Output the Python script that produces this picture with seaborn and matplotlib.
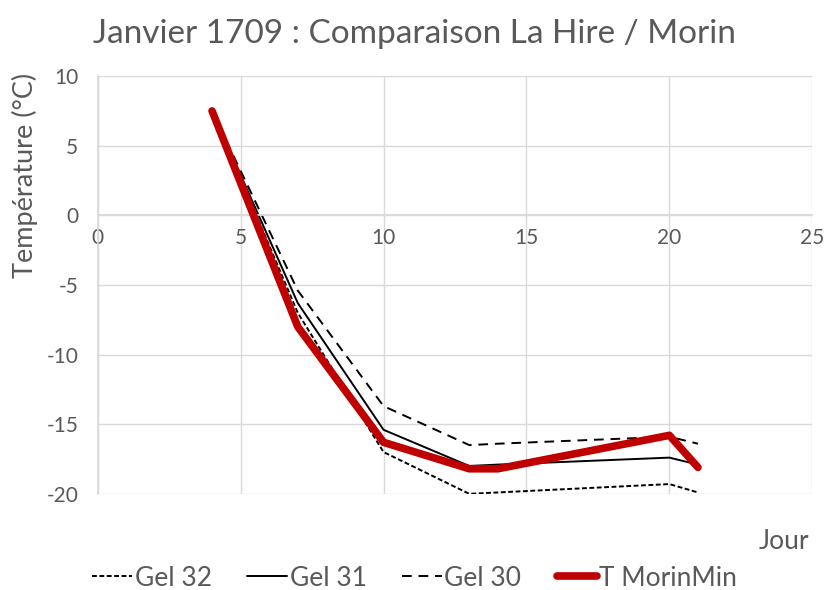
import matplotlib
matplotlib.use("Agg")
import matplotlib.pyplot as plt
import seaborn as sns
import pandas as pd
from matplotlib.lines import Line2D

jours = [4, 7, 10, 13, 14, 20, 21]
gel32 = [7.5, -7.0, -17.0, -20.0, -19.9, -19.3, -19.9]
gel31 = [7.5, -6.3, -15.4, -18.0, -17.9, -17.4, -17.9]
gel30 = [7.5, -5.4, -13.7, -16.5, -16.4, -15.9, -16.4]
morin = [7.5, -8.0, -16.3, -18.2, -18.2, -15.8, -18.1]

series_names = ["Gel 32", "Gel 31", "Gel 30", "T MorinMin"]
series_vals = [gel32, gel31, gel30, morin]

sns.set_theme(style="white")
plt.rcParams['font.family'] = ['Lato', 'DejaVu Sans']
plt.rcParams['axes.unicode_minus'] = False

fig = plt.figure(figsize=(8.28, 5.9), dpi=100)
ax = fig.add_axes([0.118, 0.163, 0.863, 0.708])

styles = {
    "Gel 32": dict(color="black", lw=1.4, ls=(0, (2.5, 1.3))),
    "Gel 31": dict(color="black", lw=1.4, ls="-"),
    "Gel 30": dict(color="black", lw=1.4, ls=(0, (5, 3.5))),
    "T MorinMin": dict(color="#c00000", lw=5.5, ls="-"),
}

for name, vals in zip(series_names, series_vals):
    df = pd.DataFrame({"Jour": jours, "T": vals})
    st = styles[name]
    sns.lineplot(data=df, x="Jour", y="T", ax=ax, color=st["color"],
                 linewidth=st["lw"], linestyle=st["ls"], solid_capstyle="round",
                 solid_joinstyle="round", zorder=3 if name == "T MorinMin" else 2)

ax.set_xlim(0, 25)
ax.set_ylim(-20, 10)
ax.set_xticks([0, 5, 10, 15, 20, 25])
ax.set_yticks([10, 5, 0, -5, -10, -15, -20])
ax.grid(True, color="#d9d9d9", lw=1)
ax.set_axisbelow(True)
for s in ["top", "right"]:
    ax.spines[s].set_visible(False)
ax.spines["left"].set_color("#d9d9d9")
ax.spines["bottom"].set_color("#d9d9d9")
ax.spines["bottom"].set_position(("data", 0))
ax.tick_params(axis="both", length=0, labelsize=15, colors="#595959")
ax.tick_params(axis="x", pad=9)
ax.tick_params(axis="y", pad=14)
ax.set_xlabel("")
ax.set_ylabel("Température (°C)", fontsize=19.5, color="#595959")
ax.yaxis.set_label_coords(-0.083, 0.763)

fig.text(0.5, 0.943, "Janvier 1709 : Comparaison La Hire / Morin", ha="center",
         va="center", fontsize=24, color="#595959")
fig.text(0.977, 0.083, "Jour", ha="right", va="center", fontsize=19, color="#595959")

handles = [Line2D([], [], color=styles[n]["color"], lw=styles[n]["lw"],
                  ls=styles[n]["ls"], solid_capstyle="round") for n in series_names]
leg = fig.legend(handles, series_names, loc="center", bbox_to_anchor=(0.501, 0.02),
                 ncol=4, frameon=False, fontsize=19, handlelength=1.5,
                 handletextpad=0.1, columnspacing=1.35, borderaxespad=0, borderpad=0)
for t in leg.get_texts():
    t.set_color("#595959")

fig.savefig("out.png", dpi=100)
